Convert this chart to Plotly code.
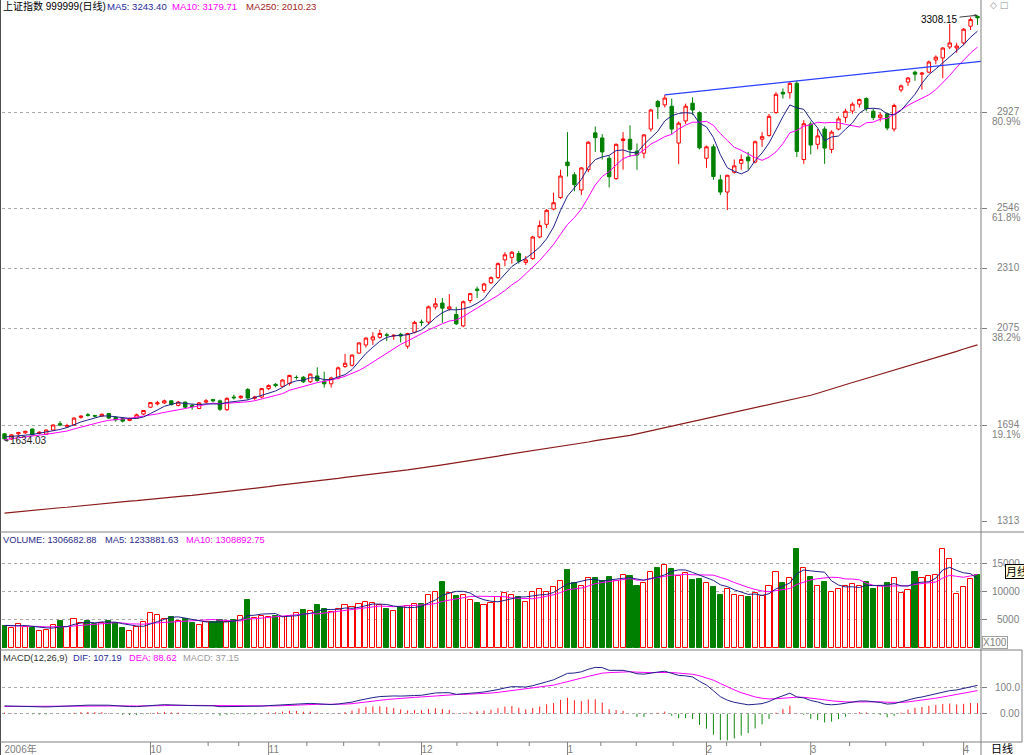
import plotly.graph_objects as go
import numpy as np

# ---------------- data ----------------
opens = [1660,1640,1660,1664,1679,1662,1659,1675,1700,1688,
         1695,1725,1735,1732,1730,1740,1725,1720,1713,1722,
         1738,1765,1778,1782,1790,1772,1785,1772,1760,1785,
         1795,1790,1755,1805,1802,1835,1800,1805,1838,1855,
         1847,1858,1882,1883,1865,1888,1868,1857,1880,1925,
         1930,1978,2010,2030,2040,2050,2045,2052,2005,2060,
         2100,2100,2160,2175,2152,2130,2085,2185,2230,2225,
         2255,2275,2345,2355,2370,2335,2350,2435,2485,2545,
         2590,2730,2680,2620,2700,2845,2825,2745,2665,2815,
         2820,2773,2765,2860,2968,2955,2950,2805,2892,2962,
         2925,2745,2790,2660,2612,2690,2725,2750,2730,2820,
         2835,2925,3005,3003,3040,2740,2880,2800,2860,2780,
         2860,2906,2931,2958,2980,2930,2905,2920,2860,3014,
         3045,3084,3076,3084,3132,3140,3183,3179,3199,3265,
         3303]
highs = [1662,1658,1668,1672,1681,1670,1677,1697,1710,1700,
         1725,1733,1742,1735,1740,1742,1730,1722,1724,1740,
         1754,1785,1790,1795,1792,1790,1788,1778,1785,1797,
         1798,1795,1803,1815,1812,1840,1810,1840,1855,1860,
         1875,1893,1890,1888,1898,1922,1905,1885,1925,1975,
         1973,2020,2040,2060,2070,2058,2052,2058,2058,2105,
         2110,2165,2195,2195,2210,2160,2185,2215,2240,2255,
         2280,2335,2375,2380,2380,2360,2440,2500,2545,2610,
         2700,2848,2690,2710,2812,2870,2840,2755,2803,2848,
         2875,2803,2840,2940,2975,2994.84,2980,2890,2960,2985,
         2930,2795,2800,2680,2680,2740,2760,2770,2815,2848,
         2920,3005,3020,3044,3049.77,2895,2890,2860,2870,2855,
         2910,2940,2965,2980,2985,2940,2925,2925,2960,3035,
         3065,3090,3085,3130,3150,3182,3274,3200,3258,3300,
         3308.15]
lows = [1634.03,1636,1655,1660,1654,1658,1656,1672,1690,1685,
        1692,1720,1728,1725,1727,1718,1708,1705,1710,1720,
        1735,1762,1772,1778,1772,1768,1760,1755,1757,1780,
        1785,1750,1750,1795,1798,1795,1793,1800,1832,1843,
        1843,1850,1874,1860,1860,1865,1842,1842,1875,1920,
        1925,1975,2000,2010,2035,2025,2030,2020,1995,2055,
        2085,2090,2150,2097,2145,2088,2080,2175,2195,2215,
        2250,2270,2320,2330,2330,2325,2345,2430,2470,2540,
        2585,2673,2615,2600,2690,2770,2740,2630,2660,2700,
        2750,2700,2745,2850,2900,2945,2840,2722,2880,2915,
        2780,2707,2660,2600,2541,2685,2700,2700,2725,2790,
        2830,2920,2980,2980,2750,2723,2760,2780,2723,2765,
        2855,2885,2920,2945,2930,2895,2890,2855,2850,3005,
        3030,3050,3015,3080,3115,3060,3175,3160,3190,3250,
        3270]
closes = [1640,1656,1665,1670,1656,1666,1675,1695,1695,1693,
          1722,1730,1733,1730,1737,1722,1715,1710,1720,1735,
          1752,1783,1782,1790,1775,1785,1765,1768,1782,1790,
          1790,1757,1800,1802,1808,1801,1805,1838,1850,1850,
          1872,1890,1882,1865,1895,1870,1857,1880,1920,1938,
          1970,2018,2037,2042,2055,2048,2048,2045,2055,2099,
          2099,2160,2172,2155,2160,2093,2180,2212,2225,2250,
          2275,2330,2365,2375,2340,2345,2435,2480,2540,2570,
          2675,2716,2641,2707,2808,2826,2770,2672,2800,2821,
          2780,2758,2837,2935,2948,2982,2860,2883,2950,2935,
          2786,2790,2673,2612,2678,2715,2740,2735,2810,2830,
          2910,2997,2998,3040,2772,2881,2797,2833,2785,2848,
          2900,2930,2958,2976,2940,2905,2915,2864,2953,3030,
          3061,3076,3080,3124,3143,3179,3199,3187,3253,3291,
          3298]
# volume in units of 100 (axis shows X100)
volumes = [3929,3512,4286,3810,3512,3095,3214,4107,4881,3690,
           5119,4405,4881,4286,4524,4881,4405,3512,3095,3690,
           4583,6190,5893,5119,5595,4881,5119,4405,4107,4702,
           4702,5000,4702,5000,5714,8452,5298,5714,5476,5714,
           5595,5714,6190,6800,6500,7600,7000,6400,6900,7700,
           7300,7900,8200,8000,7600,7000,6500,7300,7500,7800,
           7900,9500,10000,11800,9800,9300,9500,8500,8000,7600,
           8000,9000,9800,9500,9000,8200,10000,10500,9900,10800,
           12000,13800,11500,11000,12500,12400,12000,12600,12000,13000,
           12800,11000,11500,13500,14300,14800,14100,12800,13400,12100,
           12300,11500,10800,9500,10500,9500,9200,9000,9800,9300,
           11000,13500,11500,12500,17700,14200,12700,11100,11700,10000,
           10500,11000,11300,11000,11800,10500,11000,11500,12500,9800,
           10350,13450,12450,12850,13030,17620,15800,9640,10800,12240,
           13067]
ma250 = [1348,1351,1353,1356,1358,1361,1364,1366,1369,1371,
         1374,1377,1379,1382,1384,1387,1390,1392,1395,1397,
         1400,1403,1405,1408,1410,1413,1416,1418,1421,1423,
         1426,1429,1433,1436,1439,1443,1446,1449,1452,1456,
         1459,1462,1466,1469,1472,1476,1479,1482,1485,1489,
         1492,1495,1499,1502,1505,1509,1512,1515,1518,1522,
         1525,1529,1534,1538,1542,1547,1551,1555,1559,1564,
         1568,1572,1577,1581,1585,1590,1594,1598,1602,1607,
         1611,1615,1620,1624,1628,1633,1637,1641,1645,1650,
         1654,1660,1666,1672,1678,1684,1690,1696,1702,1708,
         1714,1720,1726,1732,1738,1744,1750,1756,1762,1768,
         1774,1780,1786,1792,1798,1804,1812,1820,1829,1837,
         1845,1853,1862,1870,1878,1886,1895,1903,1911,1919,
         1928,1936,1944,1952,1961,1969,1977,1985,1994,2002,
         2010.23]
prev_closes = [1615,1622,1630,1628,1640,1645,1650,1655,1648]
prev_volumes = [3800,4200,3600,4000,4300,3900,4100,3700,4400]
dif_start = 30.0
dea_start = 28.0
trend_anchor_idx = [95, 114]

month_idx = [0, 21, 38, 60, 81, 101, 116, 138]
month_labels = ['2006年', '10', '11', '12', '1', '2', '3', '4']
week_ticks = [29.3, 33.7, 43.5, 48.8, 53.9, 65.1, 70.9, 75.5, 85.8, 90.9,
              96.2, 103.9, 108.8, 121.6, 126.8, 132.2]

main_ticks = [1313, 1694, 2075, 2310, 2546, 2927]
main_pct = ['', '19.1%', '38.2%', '', '61.8%', '80.9%']
main_grid = [1694, 2075, 2310, 2546, 2927]
vol_ticks = [5000, 10000, 15000]
macd_ticks = [0, 100]
macd_tick_text = ['0.00', '100.0']

hdr_main = [('上证指数 999999(日线)', '#000000', 2, 10),
            ('MA5: 3243.40', '#2a2a9a', 106, 9.6),
            ('MA10: 3179.71', '#ff00ff', 171, 9.6),
            ('MA250: 2010.23', '#a02525', 245, 9.6)]
hdr_vol = [('VOLUME: 1306682.88', '#2a2a8a', 2, 9.3),
           ('MA5: 1233881.63', '#2a2a8a', 104, 9.3),
           ('MA10: 1308892.75', '#ff00ff', 185, 9.3)]
hdr_macd = [('MACD(12,26,9)', '#333333', 2, 9.3),
            ('DIF: 107.19', '#2a2a9a', 72, 9.3),
            ('DEA: 88.62', '#ff00ff', 128, 9.3),
            ('MACD: 37.15', '#9a9a9a', 182, 9.3)]

# ---------------- geometry ----------------
W, H = 1024, 755
ML, MR, MT, MB = 2, 43, 0, 13
PW = W - ML - MR
PH = H - MT - MB


def px(x):
    return (x - ML) / PW


def py(y):
    return (PH - (y - MT)) / PH


FONT = 'Liberation Sans, Noto Sans CJK SC, sans-serif'
GRAY = '#808080'

n = len(closes)
xs = list(range(n))
up = [c >= o for o, c in zip(opens, closes)]


def sma(vals, prev, w):
    full = list(prev) + list(vals)
    k = len(prev)
    return [float(np.mean(full[k + i - w + 1:k + i + 1])) for i in range(len(vals))]


ma5 = sma(closes, prev_closes, 5)
ma10 = sma(closes, prev_closes, 10)
vma5 = sma(volumes, prev_volumes, 5)
vma10 = sma(volumes, prev_volumes, 10)

e12 = closes[0]
e26 = closes[0] - dif_start
dea = dea_start
difs, deas, hist = [], [], []
for i, c in enumerate(closes):
    if i > 0:
        e12 = e12 * 11 / 13 + c * 2 / 13
        e26 = e26 * 25 / 27 + c * 2 / 27
    dif = e12 - e26
    if i > 0:
        dea = dea * 0.8 + dif * 0.2
    difs.append(dif)
    deas.append(dea)
    hist.append(2 * (dif - dea))

x_left, x_right = -0.36, 140.5

t0, t1 = trend_anchor_idx
slope = (highs[t1] - highs[t0]) / (t1 - t0)
trend_x = [t0, x_right]
trend_y = [highs[t0], highs[t0] + slope * (x_right - t0)]

fig = go.Figure()
fig.add_trace(go.Scatter(x=xs, y=ma250, mode='lines', line=dict(color='#8b1a1a', width=1.2),
                         xaxis='x', yaxis='y', hoverinfo='skip'))
fig.add_trace(go.Candlestick(x=xs, open=opens, high=highs, low=lows, close=closes,
                             increasing=dict(line=dict(color='#ff0000', width=1), fillcolor='#ffffff'),
                             decreasing=dict(line=dict(color='#008000', width=1), fillcolor='#008000'),
                             whiskerwidth=0, xaxis='x', yaxis='y'))
fig.add_trace(go.Scatter(x=xs, y=ma10, mode='lines', line=dict(color='#ff00ff', width=1),
                         xaxis='x', yaxis='y', hoverinfo='skip'))
fig.add_trace(go.Scatter(x=xs, y=ma5, mode='lines', line=dict(color='#20208a', width=1),
                         xaxis='x', yaxis='y', hoverinfo='skip'))
fig.add_trace(go.Scatter(x=trend_x, y=trend_y, mode='lines', line=dict(color='#2a40ff', width=1.2),
                         xaxis='x', yaxis='y', hoverinfo='skip'))

# volume
fig.add_trace(go.Bar(x=xs, y=volumes, width=0.74,
                     marker=dict(color=['#ffffff' if u else '#008000' for u in up],
                                 line=dict(color=['#ff0000' if u else '#008000' for u in up], width=1)),
                     xaxis='x2', yaxis='y2'))
fig.add_trace(go.Scatter(x=xs, y=vma10, mode='lines', line=dict(color='#ff00ff', width=1),
                         xaxis='x2', yaxis='y2', hoverinfo='skip'))
fig.add_trace(go.Scatter(x=xs, y=vma5, mode='lines', line=dict(color='#20208a', width=1),
                         xaxis='x2', yaxis='y2', hoverinfo='skip'))

# macd histogram as thin sticks
hxp, hyp, hxn, hyn = [], [], [], []
for i, h in enumerate(hist):
    if h >= 0:
        hxp += [i, i, None]
        hyp += [0, h, None]
    else:
        hxn += [i, i, None]
        hyn += [0, h, None]
fig.add_trace(go.Scatter(x=hxp, y=hyp, mode='lines', line=dict(color='#ff2020', width=1),
                         xaxis='x3', yaxis='y3', hoverinfo='skip'))
fig.add_trace(go.Scatter(x=hxn, y=hyn, mode='lines', line=dict(color='#108a10', width=1),
                         xaxis='x3', yaxis='y3', hoverinfo='skip'))
fig.add_trace(go.Scatter(x=xs, y=deas, mode='lines', line=dict(color='#ff00ff', width=1),
                         xaxis='x3', yaxis='y3', hoverinfo='skip'))
fig.add_trace(go.Scatter(x=xs, y=difs, mode='lines', line=dict(color='#20208a', width=1),
                         xaxis='x3', yaxis='y3', hoverinfo='skip'))

xcommon = dict(range=[x_left, x_right], showgrid=False, zeroline=False, showline=False,
               showticklabels=False, ticks='', fixedrange=True)
ycommon = dict(side='right', showline=False, zeroline=False, ticks='outside', ticklen=5,
               tickcolor=GRAY, showticklabels=False, fixedrange=True)

annotations = []
for grp, yy in ((hdr_main, 6), (hdr_vol, 540), (hdr_macd, 658)):
    for txt, col, x0, fs in grp:
        annotations.append(dict(x=px(x0), y=py(yy), xref='paper', yref='paper', text=txt, showarrow=False,
                                xanchor='left', yanchor='middle', font=dict(family=FONT, size=fs, color=col),
                                borderpad=0))

lab_x = px(1021)
for v, pct in zip(main_ticks, main_pct):
    annotations.append(dict(x=lab_x, y=v, xref='paper', yref='y', text=str(v), showarrow=False,
                            xanchor='right', yanchor='middle', yshift=1,
                            font=dict(family=FONT, size=10, color=GRAY), borderpad=0))
    if pct:
        annotations.append(dict(x=lab_x, y=v, xref='paper', yref='y', text=pct, showarrow=False,
                                xanchor='right', yanchor='middle', yshift=-9,
                                font=dict(family=FONT, size=10, color=GRAY), borderpad=0))
for v in vol_ticks:
    annotations.append(dict(x=lab_x, y=v, xref='paper', yref='y2', text=str(v), showarrow=False,
                            xanchor='right', yanchor='middle',
                            font=dict(family=FONT, size=10, color=GRAY), borderpad=0))
for v, t in zip(macd_ticks, macd_tick_text):
    annotations.append(dict(x=lab_x, y=v, xref='paper', yref='y3', text=t, showarrow=False,
                            xanchor='right', yanchor='middle',
                            font=dict(family=FONT, size=10, color=GRAY), borderpad=0))

# high / low markers
i_hi = int(np.argmax(highs))
i_lo = int(np.argmin(lows))
annotations.append(dict(x=i_hi, y=highs[i_hi], xref='x', yref='y', text=f'{highs[i_hi]:.2f}',
                        showarrow=True, ax=-38, ay=4, arrowhead=2, arrowsize=0.6, arrowwidth=1,
                        arrowcolor='#404040', font=dict(family=FONT, size=10, color='#000000')))
annotations.append(dict(x=i_lo, y=lows[i_lo], xref='x', yref='y', text=f'{lows[i_lo]:.2f}',
                        showarrow=True, ax=24, ay=0, arrowhead=2, arrowsize=0.6, arrowwidth=1,
                        arrowcolor='#404040', font=dict(family=FONT, size=10, color='#202020')))

# misc labels
annotations.append(dict(x=px(994.5), y=py(642.5), xref='paper', yref='paper', text='X100', showarrow=False,
                        xanchor='center', yanchor='middle', bgcolor='#ffffff', bordercolor='#a0a0a0',
                        borderwidth=1, borderpad=0, font=dict(family=FONT, size=10, color=GRAY)))
annotations.append(dict(x=px(1005), y=py(571), xref='paper', yref='paper', text='月线', showarrow=False,
                        xanchor='left', yanchor='middle', bgcolor='#ffffe1', bordercolor='#000000',
                        borderwidth=1, borderpad=0, font=dict(family=FONT, size=11, color='#000000')))
annotations.append(dict(x=px(1002), y=py(748.5), xref='paper', yref='paper', text='日线', showarrow=False,
                        xanchor='center', yanchor='middle', font=dict(family=FONT, size=11, color='#000000')))
annotations.append(dict(x=px(988), y=py(5), xref='paper', yref='paper', text='◇ □', showarrow=False,
                        xanchor='left', yanchor='middle', font=dict(family='DejaVu Sans', size=9, color='#909090')))

shapes = []
line_gray = dict(color=GRAY, width=1)
shapes.append(dict(type='line', xref='paper', yref='paper', x0=px(0.5), x1=px(0.5), y0=py(755), y1=1,
                   line=dict(color='#505050', width=1)))
shapes.append(dict(type='line', xref='paper', yref='paper', x0=px(981), x1=px(981), y0=py(755), y1=1,
                   line=line_gray))
shapes.append(dict(type='line', xref='paper', yref='paper', x0=px(0), x1=px(1024), y0=py(532), y1=py(532),
                   line=line_gray))
shapes.append(dict(type='line', xref='paper', yref='paper', x0=px(0), x1=px(1022), y0=py(650), y1=py(650),
                   line=line_gray))
shapes.append(dict(type='line', xref='paper', yref='paper', x0=px(0), x1=px(1022), y0=py(742), y1=py(742),
                   line=line_gray))
shapes.append(dict(type='line', xref='paper', yref='paper', x0=px(1022), x1=px(1022), y0=py(742), y1=py(650),
                   line=line_gray))
for mi in month_idx[1:]:
    shapes.append(dict(type='line', xref='x3', yref='paper', x0=mi, x1=mi, y0=0, y1=py(755),
                       line=line_gray))
for wi in week_ticks:
    shapes.append(dict(type='line', xref='x3', yref='paper', x0=wi, x1=wi, y0=0, y1=py(746),
                       line=line_gray))

grid = dict(showgrid=True, gridcolor='#a8a8a8', gridwidth=1, griddash='dot')

fig.update_layout(
    width=W, height=H, margin=dict(l=ML, r=MR, t=MT, b=MB),
    paper_bgcolor='#ffffff', plot_bgcolor='#ffffff', showlegend=False,
    bargap=0, hovermode=False,
    xaxis=dict(**xcommon, anchor='y', rangeslider=dict(visible=False)),
    xaxis2=dict(**xcommon, anchor='y2', matches='x'),
    xaxis3=dict(range=[x_left, x_right], showgrid=False, zeroline=False, showline=False,
                anchor='y3', matches='x', tickmode='array', tickvals=month_idx, ticktext=month_labels,
                ticks='', ticklabelposition='outside right', fixedrange=True,
                tickfont=dict(family=FONT, size=10, color=GRAY)),
    yaxis=dict(**ycommon, domain=[py(532), 1], range=[1273.6, 3368.1], tickmode='array',
               tickvals=main_ticks, showgrid=False,
               minor=dict(tickmode='array', tickvals=main_grid, showgrid=True, gridcolor='#a8a8a8',
                          griddash='dot', ticks='')),
    yaxis2=dict(**ycommon, domain=[py(650), py(532)], range=[-356, 20636], tickmode='array',
                tickvals=vol_ticks, **grid),
    yaxis3=dict(**ycommon, domain=[0, py(650)], range=[-108.8, 245], tickmode='array',
                tickvals=macd_ticks, **grid),
    annotations=annotations, shapes=shapes,
)

fig.write_html('out.html')
